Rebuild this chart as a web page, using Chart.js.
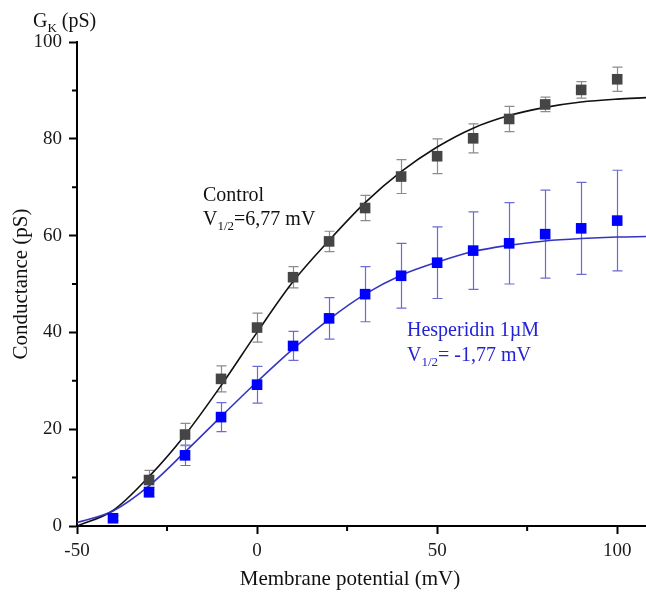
<!DOCTYPE html>
<html>
<head>
<meta charset="utf-8">
<script src="https://cdn.jsdelivr.net/npm/chart.js@4.4.1/dist/chart.umd.min.js"></script>
<style>
  html, body { margin: 0; padding: 0; background: #fff; }
  #wrap { width: 646px; height: 595px; }
</style>
</head>
<body>
<div id="wrap"><canvas id="gkChart" width="646" height="595"></canvas></div>
<script>
const controlV = [-30, -20, -10, 0, 10, 20, 30, 40, 50, 60, 70, 80, 90, 100];
const controlG = [9.5, 18.9, 30.4, 41.0, 51.4, 58.8, 65.7, 72.2, 76.4, 80.1, 84.1, 87.1, 90.1, 92.3];
const controlErr = [2.0, 2.3, 2.7, 3.0, 2.2, 2.1, 2.6, 3.5, 3.6, 3.0, 2.6, 1.5, 1.7, 2.5];

const hespV = [-40, -30, -20, -10, 0, 10, 20, 30, 40, 50, 60, 70, 80, 90, 100];
const hespG = [1.6, 7.0, 14.6, 22.5, 29.2, 37.2, 42.9, 47.9, 51.7, 54.4, 56.9, 58.4, 60.3, 61.5, 63.1];
const hespErr = [0.5, 1.0, 2.1, 3.0, 3.8, 3.0, 4.3, 5.7, 6.7, 7.4, 8.0, 8.4, 9.1, 9.5, 10.4];

// Boltzmann fit curves, sampled from the figure
const fitV = [-50, -40, -30, -20, -10, 0, 10, 20, 30, 40, 50, 60, 70, 80, 90, 100, 108];
const controlFit = [0, 3.2, 10.2, 18.8, 29.0, 40.0, 50.5, 59.0, 66.8, 73.2, 78.3, 82.2, 84.8, 86.5, 87.6, 88.2, 88.5];
const hespFit = [0.7, 3.1, 8.3, 15.3, 22.6, 29.8, 36.6, 42.7, 47.9, 51.8, 54.5, 56.7, 58.0, 58.9, 59.4, 59.7, 59.8];

// axis ticks
const xMajorTicks = [-50, 0, 50, 100];
const xMinorTicks = [-25, 25, 75];
const yMajorTicks = [0, 20, 40, 60, 80, 100];
const yMinorTicks = [10, 30, 50, 70, 90];

const SERIF = "'Liberation Serif', 'Times New Roman', serif";

const toPoints = (xs, ys) => xs.map((v, i) => ({ x: v, y: ys[i] }));

// error bars with caps, drawn under the markers
const errorBarPlugin = {
  id: 'errorBars',
  beforeDatasetsDraw(chart) {
    const { ctx, scales: { x, y } } = chart;
    chart.data.datasets.forEach(ds => {
      if (!ds.errors) return;
      ctx.save();
      ctx.strokeStyle = ds.errorColor;
      ctx.lineWidth = 1.2;
      ds.data.forEach((p, j) => {
        const px = Math.round(x.getPixelForValue(p.x)) + 0.5;
        const top = y.getPixelForValue(p.y + ds.errors[j]);
        const bot = y.getPixelForValue(p.y - ds.errors[j]);
        ctx.beginPath();
        ctx.moveTo(px, top); ctx.lineTo(px, bot);
        ctx.moveTo(px - 5, top); ctx.lineTo(px + 5, top);
        ctx.moveTo(px - 5, bot); ctx.lineTo(px + 5, bot);
        ctx.stroke();
      });
      ctx.restore();
    });
  }
};

// short minor ticks outside the axes
const minorTickPlugin = {
  id: 'minorTicks',
  afterDraw(chart) {
    const { ctx, scales: { x, y }, chartArea } = chart;
    ctx.save();
    ctx.strokeStyle = '#000';
    ctx.lineWidth = 2;
    ctx.beginPath();
    xMinorTicks.forEach(v => {
      const px = x.getPixelForValue(v);
      ctx.moveTo(px, chartArea.bottom);
      ctx.lineTo(px, chartArea.bottom + 5);
    });
    yMinorTicks.forEach(v => {
      const py = y.getPixelForValue(v);
      ctx.moveTo(chartArea.left, py);
      ctx.lineTo(chartArea.left - 5, py);
    });
    ctx.stroke();
    ctx.restore();
  }
};

// draws text made of pieces (for subscripts)
function drawPieces(ctx, pieces, x, y, color) {
  ctx.fillStyle = color;
  ctx.textAlign = 'left';
  ctx.textBaseline = 'alphabetic';
  let cx = x;
  pieces.forEach(p => {
    ctx.font = `${p.size}px ${SERIF}`;
    ctx.fillText(p.t, cx, y + (p.dy || 0));
    cx += ctx.measureText(p.t).width;
  });
}

const labelPlugin = {
  id: 'labels',
  afterDraw(chart) {
    const ctx = chart.ctx;
    ctx.save();
    // unit label above the y axis
    drawPieces(ctx, [
      { t: 'G', size: 20 },
      { t: 'K', size: 13, dy: 5 },
      { t: ' (pS)', size: 20 }
    ], 33, 27, '#111');

    // x axis title
    ctx.font = `21px ${SERIF}`;
    ctx.fillStyle = '#111';
    ctx.textAlign = 'center';
    ctx.textBaseline = 'alphabetic';
    ctx.fillText('Membrane potential (mV)', 350, 585);

    // control annotation
    drawPieces(ctx, [{ t: 'Control', size: 20 }], 203, 201, '#111');
    drawPieces(ctx, [
      { t: 'V', size: 20 },
      { t: '1/2', size: 13, dy: 5 },
      { t: '=6,77 mV', size: 20 }
    ], 203, 225, '#111');

    // hesperidin annotation
    drawPieces(ctx, [{ t: 'Hesperidin 1\u00b5M', size: 20 }], 407, 336, '#2323d6');
    drawPieces(ctx, [
      { t: 'V', size: 20 },
      { t: '1/2', size: 13, dy: 5 },
      { t: '= -1,77 mV', size: 20 }
    ], 407, 361, '#2323d6');
    ctx.restore();
  }
};

const ctx = document.getElementById('gkChart').getContext('2d');

new Chart(ctx, {
  type: 'scatter',
  data: {
    datasets: [
      {
        label: 'Hesperidin 1µM',
        data: toPoints(hespV, hespG),
        errors: hespErr,
        errorColor: '#6b6bd4',
        pointStyle: 'rect',
        pointRadius: 7.5,
        backgroundColor: '#0000ff',
        borderColor: '#0000ff',
        borderWidth: 0
      },
      {
        label: 'Control',
        data: toPoints(controlV, controlG),
        errors: controlErr,
        errorColor: '#8c8c8c',
        pointStyle: 'rect',
        pointRadius: 7.5,
        backgroundColor: '#454545',
        borderColor: '#454545',
        borderWidth: 0
      },
      {
        label: 'Hesperidin fit',
        data: toPoints(fitV, hespFit),
        showLine: true,
        pointRadius: 0,
        borderColor: '#3434c4',
        borderWidth: 1.6,
        cubicInterpolationMode: 'monotone'
      },
      {
        label: 'Control fit',
        data: toPoints(fitV, controlFit),
        showLine: true,
        pointRadius: 0,
        borderColor: '#111111',
        borderWidth: 1.6,
        cubicInterpolationMode: 'monotone'
      }
    ]
  },
  options: {
    responsive: false,
    animation: false,
    devicePixelRatio: 1,
    layout: { autoPadding: false, padding: { top: 42, right: 0, left: 0, bottom: 0 } },
    plugins: {
      legend: { display: false },
      tooltip: { enabled: false }
    },
    scales: {
      x: {
        type: 'linear',
        min: -50,
        max: 108,
        afterBuildTicks: scale => { scale.ticks = xMajorTicks.map(v => ({ value: v })); },
        afterFit: scale => {
          scale.height = 69;
          scale.paddingLeft = 0;
          scale.paddingRight = 0;
        },
        border: { display: true, color: '#000', width: 2 },
        grid: { drawOnChartArea: false, drawTicks: true, tickLength: 8, tickColor: '#000', tickWidth: 2 },
        ticks: {
          padding: 6,
          color: '#1a1a1a',
          font: { family: SERIF, size: 19 },
          maxRotation: 0
        }
      },
      y: {
        type: 'linear',
        min: 0,
        max: 100,
        afterBuildTicks: scale => { scale.ticks = yMajorTicks.map(v => ({ value: v })); },
        afterFit: scale => { scale.width = 77; },
        border: { display: true, color: '#000', width: 2 },
        grid: { drawOnChartArea: false, drawTicks: true, tickLength: 8, tickColor: '#000', tickWidth: 2 },
        ticks: {
          padding: 7,
          color: '#1a1a1a',
          font: { family: SERIF, size: 19 }
        },
        title: {
          display: true,
          text: 'Conductance (pS)',
          color: '#111',
          font: { family: SERIF, size: 21 },
          padding: { top: 9, bottom: 0 }
        }
      }
    }
  },
  plugins: [errorBarPlugin, minorTickPlugin, labelPlugin]
});
</script>
</body>
</html>
